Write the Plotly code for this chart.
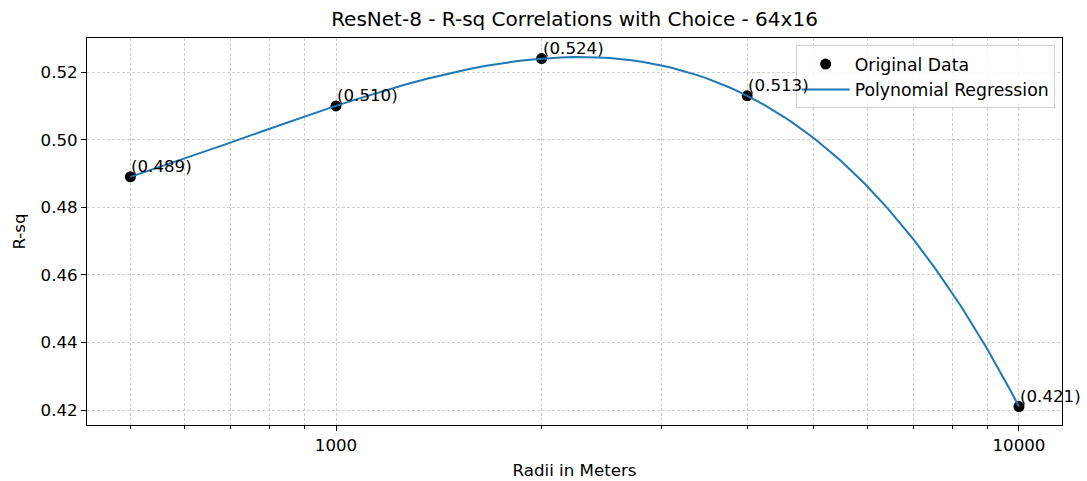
import numpy as np
import plotly.graph_objects as go

radii = [500, 1000, 2000, 4000, 10000]
r_sq = [0.489, 0.510, 0.524, 0.513, 0.421]
labels = ["(0.489)", "(0.510)", "(0.524)", "(0.513)", "(0.421)"]
poly_degree = 4

logx = np.log10(radii)
coef = np.polyfit(logx, r_sq, poly_degree)
x_fit = np.linspace(min(radii), max(radii), 100)
y_fit = np.polyval(coef, np.log10(x_fit))

FONT = "DejaVu Sans"
FS = 16.67
fig = go.Figure()
fig.add_trace(go.Scatter(x=radii, y=r_sq, mode="markers", name="Original Data",
                         marker=dict(color="black", size=11)))
fig.add_trace(go.Scatter(x=x_fit, y=y_fit, mode="lines", name="Polynomial Regression",
                         line=dict(color="#1f77b4", width=2)))

for xv, yv, t in zip(radii, r_sq, labels):
    fig.add_annotation(x=np.log10(xv), y=yv, text=t, showarrow=False,
                       xanchor="left", yanchor="bottom", xshift=-1, yshift=-1,
                       font=dict(family=FONT, size=FS, color="black"))

minor_vals = [v * m for m in (100, 1000) for v in range(2, 10)]
GRID = "#cfcfcf"
fig.update_layout(
    width=1087, height=481,
    paper_bgcolor="white", plot_bgcolor="white",
    margin=dict(l=87, r=25, t=38, b=56, autoexpand=False),
    font=dict(family=FONT, size=FS, color="black"),
    title=dict(text="ResNet-8 - R-sq Correlations with Choice - 64x16",
               x=0.5, xref="paper", xanchor="center", y=1 - 19 / 481, yref="container",
               yanchor="middle",
               font=dict(family=FONT, size=20, color="black")),
    showlegend=True,
    legend=dict(x=0.9925, xanchor="right", y=0.981, yanchor="top",
                bgcolor="rgba(255,255,255,0.8)", bordercolor="#d0d0d0", borderwidth=1,
                itemwidth=48,
                font=dict(family=FONT, size=17.3, color="black")),
    xaxis=dict(type="log", range=[2.6354, 4.063], automargin=False,
               tickvals=[1000, 10000], ticktext=["1000", "10000"],
               ticks="outside", ticklen=5, tickcolor="black",
               showline=True, linecolor="black", linewidth=1, mirror=True,
               showgrid=True, gridcolor=GRID, griddash="3px,2px", gridwidth=0.7,
               minor=dict(tickvals=minor_vals, ticks="outside", ticklen=3, tickcolor="black",
                          showgrid=True, gridcolor=GRID, griddash="3px,2px", gridwidth=0.7),
               title=dict(text="Radii in Meters", font=dict(family=FONT, size=FS), standoff=10),
               zeroline=False),
    yaxis=dict(range=[0.41556, 0.5301], dtick=0.02, tick0=0.42, tickformat=".2f",
               automargin=False,
               ticks="outside", ticklen=5, tickcolor="black",
               showline=True, linecolor="black", linewidth=1, mirror=True,
               showgrid=True, gridcolor=GRID, griddash="3px,2px", gridwidth=0.7,
               title=dict(text="R-sq", font=dict(family=FONT, size=FS), standoff=10),
               zeroline=False),
)

fig.write_html("out.html", config={"displayModeBar": False},
               post_script="document.body.style.margin='0';")
